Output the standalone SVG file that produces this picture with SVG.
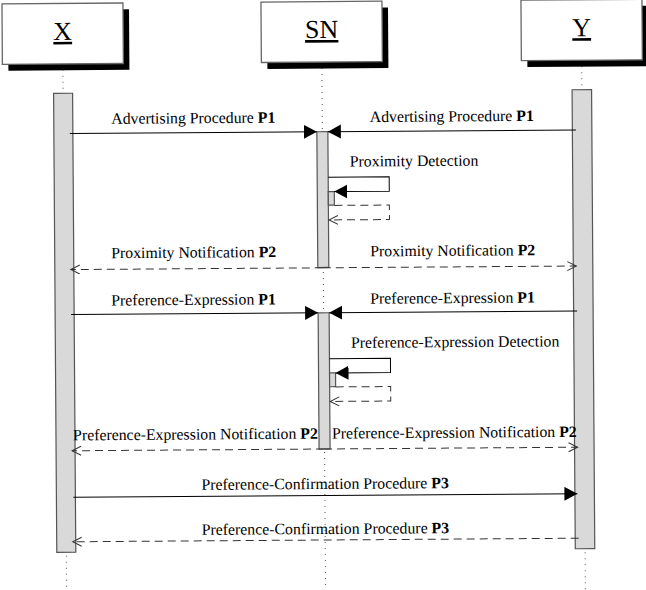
<svg xmlns="http://www.w3.org/2000/svg" width="646" height="590" viewBox="0 0 646 590">
  <style>
    .head { fill: #fff; stroke: #666; stroke-width: 1.3; }
    .shadow { fill: #000; }
    .title { font-family: "Liberation Serif", "Times New Roman", serif; font-size: 26px; text-anchor: middle; text-decoration: underline; fill: #000; }
    .life { stroke: #555; stroke-width: 1; stroke-dasharray: 1 5; fill: none; }
    .bar { fill: #d9d9d9; stroke: #555; stroke-width: 1.2; }
    .msg { stroke: #000; stroke-width: 1; fill: none; }
    .ret { stroke: #333; stroke-width: 1; stroke-dasharray: 8 5; fill: none; }
    .lbl { font-family: "Liberation Serif", "Times New Roman", serif; font-size: 15.8px; fill: #000; }
    .mid { text-anchor: middle; }
    .b { font-weight: bold; }
  </style>
  <defs>
    <marker id="solid" markerUnits="userSpaceOnUse" markerWidth="14" markerHeight="15" refX="13" refY="7" orient="auto">
      <path d="M0,0 L13,7 L0,14 Z" fill="#000"/>
    </marker>
    <marker id="open" markerUnits="userSpaceOnUse" markerWidth="11" markerHeight="11" refX="9.5" refY="5" orient="auto">
      <path d="M0.5,0.5 L9.5,5 L0.5,9.5" fill="none" stroke="#333" stroke-width="1"/>
    </marker>
  </defs>

  <g transform="rotate(-0.4 323 295)">
    <!-- lifelines -->
    <g id="lifelines">
      <line class="life" x1="64.5" y1="62" x2="64.5" y2="600"/>
      <line class="life" x1="323.5" y1="62" x2="323.5" y2="600"/>
      <line class="life" x1="583.3" y1="62" x2="583.3" y2="600"/>
    </g>

    <!-- participant X -->
    <g id="X">
      <rect class="shadow" x="10" y="8" width="121" height="60.5"/>
      <rect class="head" x="4" y="1.6" width="121" height="60.5"/>
      <text class="title" x="64.5" y="38">X</text>
      <rect class="bar" x="55" y="91.5" width="19" height="459"/>
    </g>

    <!-- participant SN -->
    <g id="SN">
      <rect class="shadow" x="269" y="8" width="121" height="60.5"/>
      <rect class="head" x="263" y="1.6" width="121" height="60.5"/>
      <text class="title" x="323.5" y="38">SN</text>
      <rect class="bar" x="318" y="131.7" width="11" height="135.8"/>
      <rect class="bar" x="318" y="312.8" width="11" height="136.2"/>
      <rect class="bar" x="329" y="191.7" width="6" height="13.5"/>
      <rect class="bar" x="329" y="373" width="6" height="13.8"/>
    </g>

    <!-- participant Y -->
    <g id="Y">
      <rect class="shadow" x="529" y="8" width="121" height="60.5"/>
      <rect class="head" x="523" y="1.6" width="121" height="60.5"/>
      <text class="title" x="583.5" y="38">Y</text>
      <rect class="bar" x="573.5" y="91.5" width="19.5" height="459"/>
    </g>

    <!-- messages -->
    <g id="connectors">
      <path class="msg" d="M71,131.7 H318" marker-end="url(#solid)"/>
      <path class="msg" d="M577,131.7 H329" marker-end="url(#solid)"/>

      <path class="msg" d="M329,177.3 H390 V191.7 H335" marker-end="url(#solid)"/>
      <path class="ret" d="M335,205.5 H390 V220 H329.5" marker-end="url(#open)"/>

      <path class="ret" d="M323,267.8 H71" marker-end="url(#open)"/>
      <path class="ret" d="M323,267.8 H576.5" marker-end="url(#open)"/>

      <path class="msg" d="M71,312.8 H318" marker-end="url(#solid)"/>
      <path class="msg" d="M577,312.8 H329" marker-end="url(#solid)"/>

      <path class="msg" d="M329,358.7 H390 V373 H335" marker-end="url(#solid)"/>
      <path class="ret" d="M335,387 H390 V401.5 H329.5" marker-end="url(#open)"/>

      <path class="ret" d="M323,449 H71" marker-end="url(#open)"/>
      <path class="ret" d="M323,449 H576.5" marker-end="url(#open)"/>

      <path class="msg" d="M72,495.5 H576" marker-end="url(#solid)"/>
      <path class="ret" d="M577,540 H71" marker-end="url(#open)"/>
    </g>

    <!-- message labels -->
    <g id="labels">
      <text class="lbl mid" x="194.5" y="122.3">Advertising Procedure <tspan class="b">P1</tspan></text>
      <text class="lbl mid" x="453" y="122.3">Advertising Procedure <tspan class="b">P1</tspan></text>
      <text class="lbl" x="350.7" y="166.7">Proximity Detection</text>
      <text class="lbl mid" x="194" y="256.7">Proximity Notification <tspan class="b">P2</tspan></text>
      <text class="lbl mid" x="453" y="256.7">Proximity Notification <tspan class="b">P2</tspan></text>
      <text class="lbl mid" x="193.5" y="304">Preference-Expression <tspan class="b">P1</tspan></text>
      <text class="lbl mid" x="452.5" y="304">Preference-Expression <tspan class="b">P1</tspan></text>
      <text class="lbl" x="350.7" y="348">Preference-Expression Detection</text>
      <text class="lbl mid" x="194.5" y="438.6">Preference-Expression Notification <tspan class="b">P2</tspan></text>
      <text class="lbl mid" x="453.4" y="438.6">Preference-Expression Notification <tspan class="b">P2</tspan></text>
      <text class="lbl mid" x="323.8" y="489">Preference-Confirmation Procedure <tspan class="b">P3</tspan></text>
      <text class="lbl mid" x="323.8" y="534">Preference-Confirmation Procedure <tspan class="b">P3</tspan></text>
    </g>
  </g>
</svg>
